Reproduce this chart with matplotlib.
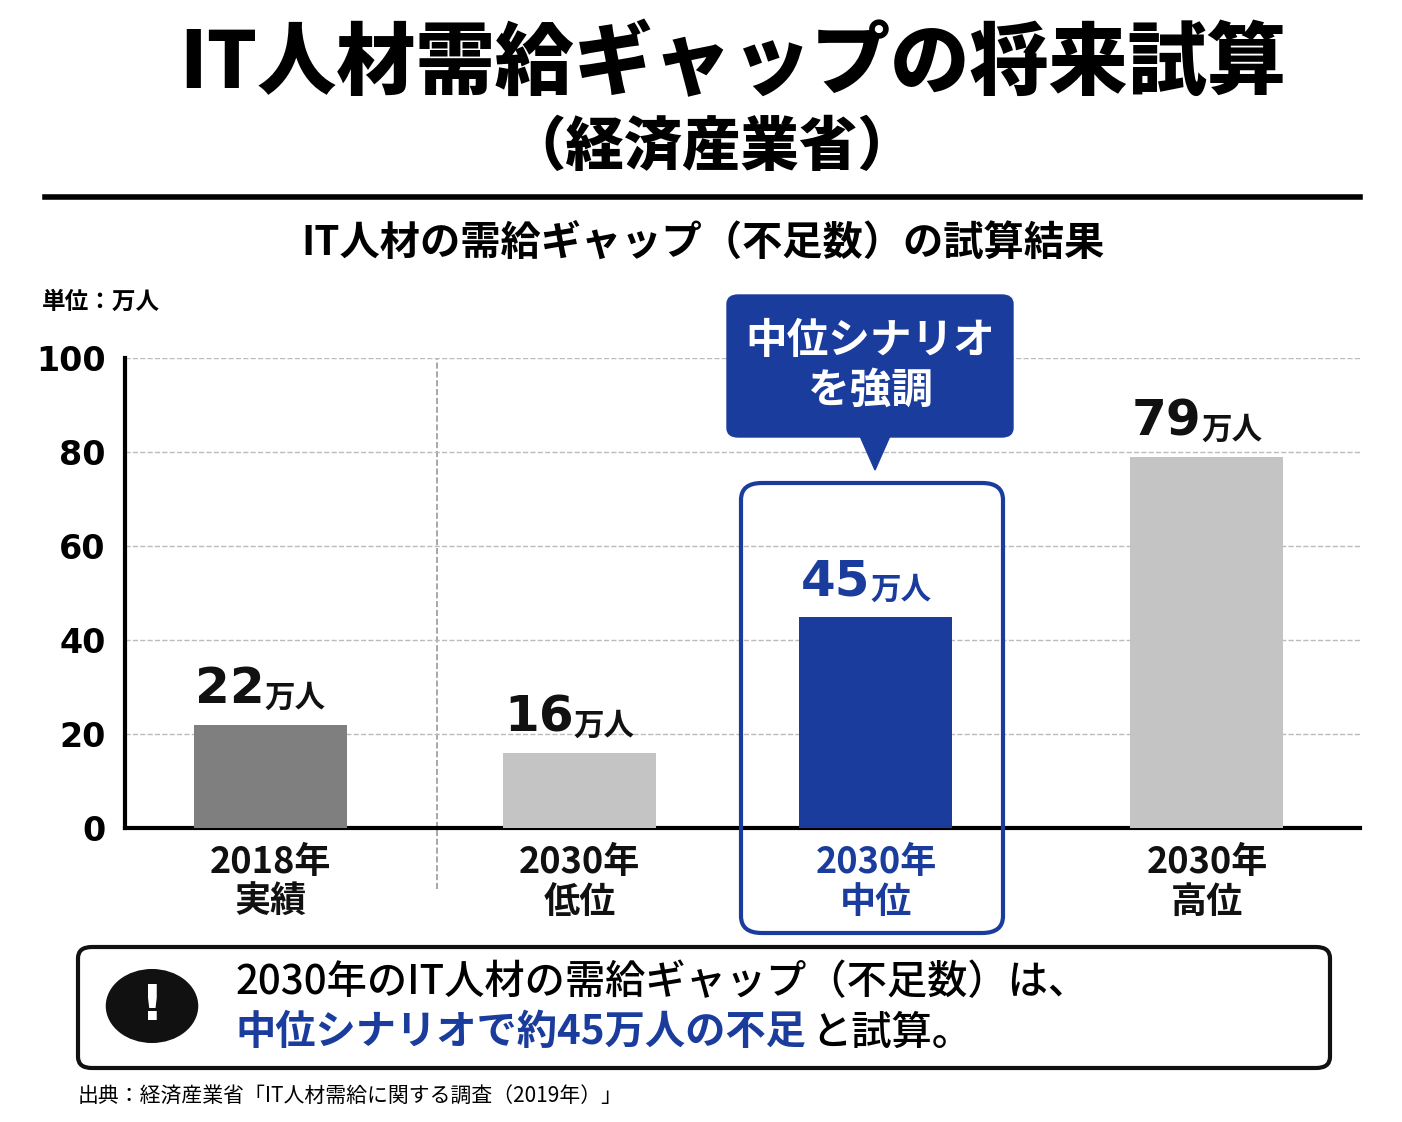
import matplotlib
matplotlib.use("Agg")
import matplotlib.pyplot as plt
from matplotlib.patches import FancyBboxPatch, Polygon, Circle

plt.rcParams['font.family'] = ['Noto Sans CJK JP', 'DejaVu Sans']

cats_year = ["2018年", "2030年", "2030年", "2030年"]
cats_kind = ["実績", "低位", "中位", "高位"]
values = [22, 16, 45, 79]
labels = ["22", "16", "45", "79"]
colors = ["#7f7f7f", "#c4c4c4", "#1a3c9c", "#c4c4c4"]
yticks = [0, 20, 40, 60, 80, 100]

BLUE = "#1a3c9c"
W, H = 1402, 1122
fig = plt.figure(figsize=(W/100, H/100), dpi=100)
fig.patch.set_facecolor("white")

def fx(px): return px / W
def fy(py): return 1 - py / H

# titles
fig.text(fx(733), fy(65), "IT人材需給ギャップの将来試算", ha="center", va="center", fontsize=57, fontweight="black")
fig.text(fx(712), fy(148), "（経済産業省）", ha="center", va="center", fontsize=42, fontweight="black")
fig.add_artist(plt.Line2D([fx(45), fx(1360)], [fy(197), fy(197)], color="black", lw=4))
fig.text(fx(703), fy(243), "IT人材の需給ギャップ（不足数）の試算結果", ha="center", va="center", fontsize=29, fontweight="bold")
fig.text(fx(42), fy(302), "単位：万人", ha="left", va="center", fontsize=17, fontweight="bold")

x = [0, 0.99, 1.94, 3.0]
ax = fig.add_axes([fx(125), fy(828), fx(1360) - fx(125), fy(358) - fy(828)])
ax.set_xlim(-0.465, 3.49)
ax.set_ylim(0, 100)
ax.bar(x, values, width=0.49, color=colors, zorder=3)
ax.set_yticks(yticks)
ax.set_yticklabels([str(v) for v in yticks], fontsize=24, fontweight="bold", family="DejaVu Sans")
ax.yaxis.grid(True, ls="--", color="#bbbbbb", lw=1)
ax.tick_params(length=0, pad=14)
ax.set_xticks([])
for s in ["top", "right"]:
    ax.spines[s].set_visible(False)
ax.spines["left"].set_linewidth(3)
ax.spines["bottom"].set_linewidth(3)
ax.axvline(0.535, color="#999999", ls="--", lw=1.2, zorder=1)
ax.axvline(0.535, ymin=-0.13, ymax=0, color="#999999", ls="--", lw=1.2, clip_on=False)

for xi, v, lab, c in zip(x, values, labels, colors):
    tc = BLUE if c == BLUE else "#111111"
    ax.annotate(lab, (xi, v), xytext=(-4, 8), textcoords="offset points", ha="right", va="bottom",
                fontsize=36, fontweight="bold", color=tc, family="DejaVu Sans")
    ax.annotate("万人", (xi, v), xytext=(-4, 8), textcoords="offset points", ha="left", va="bottom",
                fontsize=22, fontweight="bold", color=tc)
for xi, yr, k, c in zip(x, cats_year, cats_kind, colors):
    tc = BLUE if c == BLUE else "#111111"
    ax.text(xi, -3.5, yr + "\n" + k, ha="center", va="top", fontsize=26, fontweight="bold",
            color=tc, linespacing=1.1, transform=ax.transData, clip_on=False)

# highlight box
fig.add_artist(FancyBboxPatch((fx(741), fy(933)), fx(1003) - fx(741), fy(483) - fy(933),
                              boxstyle="round,pad=0,rounding_size=0.015", fill=False, ec=BLUE, lw=3))
# callout
fig.add_artist(FancyBboxPatch((fx(727), fy(437)), fx(1013) - fx(727), fy(295) - fy(437),
                              boxstyle="round,pad=0,rounding_size=0.008", fc=BLUE, ec=BLUE))
fig.add_artist(Polygon([(fx(860), fy(436)), (fx(890), fy(436)), (fx(875), fy(470))], closed=True, fc=BLUE, ec=BLUE))
fig.text(fx(870), fy(366), "中位シナリオ\nを強調", ha="center", va="center", fontsize=30,
         fontweight="bold", color="white", linespacing=1.25)

# note box
fig.add_artist(FancyBboxPatch((fx(78), fy(1068)), fx(1330) - fx(78), fy(947) - fy(1068),
                              boxstyle="round,pad=0,rounding_size=0.01", fill=False, ec="#111111", lw=3))
fig.add_artist(Circle((fx(152), fy(1006)), 0.033, transform=fig.transFigure, fc="#111111"))
fig.text(fx(152), fy(1006), "!", ha="center", va="center", fontsize=36, fontweight="black", color="white", family="DejaVu Sans")
fig.text(fx(235), fy(983), "2030年のIT人材の需給ギャップ（不足数）は、", ha="left", va="center", fontsize=29, fontweight="medium")
t = fig.text(fx(235), fy(1033), "中位シナリオで約45万人の不足", ha="left", va="center", fontsize=29, fontweight="bold", color=BLUE)
fig.draw_without_rendering()
fig.text(fx(235), fy(1033), "", fontsize=1)
bb = t.get_window_extent()
fig.text(bb.x1 / fig.bbox.width + 0.004, fy(1033), "と試算。", ha="left", va="center", fontsize=29, fontweight="medium")
fig.text(fx(78), fy(1097), "出典：経済産業省「IT人材需給に関する調査（2019年）」", ha="left", va="center", fontsize=15)

fig.savefig("out.png", dpi=100)
